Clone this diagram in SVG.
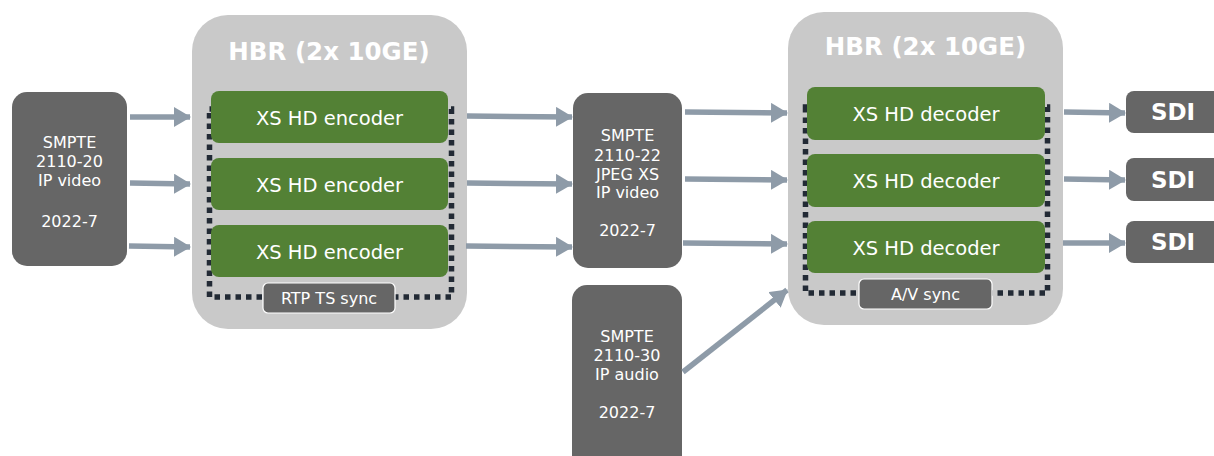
<svg xmlns="http://www.w3.org/2000/svg" width="1214" height="456" viewBox="0 0 1214 456">
<style>
.hbr{fill:#c9c9c9}
.ttl{font-family:"DejaVu Sans",Verdana,sans-serif;font-weight:bold;font-size:24.5px;fill:#ffffff;text-anchor:middle}
.grn{fill:#538135}
.gt{font-family:"DejaVu Sans",Verdana,sans-serif;font-size:19.5px;fill:#ffffff;text-anchor:middle}
.dk{fill:#666666}
.st{font-family:"DejaVu Sans",Verdana,sans-serif;font-size:16px;fill:#ffffff;text-anchor:middle}
.sm{font-family:"DejaVu Sans",Verdana,sans-serif;font-size:16px;fill:#ffffff;text-anchor:middle}
.sdi{font-family:"DejaVu Sans",Verdana,sans-serif;font-weight:bold;font-size:23px;fill:#ffffff;text-anchor:middle}
.dot{fill:none;stroke:#222a35;stroke-width:5.5;stroke-dasharray:5.5 5}
.syn{fill:#666666;stroke:#ffffff;stroke-width:1.2}
.ar{stroke:#8e9ba8;stroke-width:5.5;fill:none;marker-end:url(#ah)}
</style>
<defs>
<marker id="ah" markerUnits="userSpaceOnUse" markerWidth="18" markerHeight="20" refX="16" refY="10" orient="auto">
<path d="M0,0 L17,10 L0,20 Z" fill="#8e9ba8"/>
</marker>
</defs>

<g id="src-2110-20">
<rect class="dk" x="12" y="92" width="115" height="174" rx="15"/>
<text class="st" x="69.5" y="148">SMPTE</text>
<text class="st" x="69.5" y="167">2110-20</text>
<text class="st" x="69.5" y="186">IP video</text>
<text class="st" x="69.5" y="227">2022-7</text>
</g>

<g id="hbr-enc">
<rect class="hbr" x="192" y="15" width="275" height="314" rx="36"/>
<text class="ttl" x="329" y="60">HBR (2x 10GE)</text>
<rect class="dot" x="209.5" y="109" width="242" height="188"/>
<rect class="grn" x="211" y="91" width="237" height="52" rx="8"/>
<text class="gt" x="329.5" y="125">XS HD encoder</text>
<rect class="grn" x="211" y="158" width="237" height="52" rx="8"/>
<text class="gt" x="329.5" y="192">XS HD encoder</text>
<rect class="grn" x="211" y="225" width="237" height="52" rx="8"/>
<text class="gt" x="329.5" y="259">XS HD encoder</text>
<rect class="syn" x="263" y="283" width="132" height="30" rx="5"/>
<text class="sm" x="329" y="304">RTP TS sync</text>
</g>

<g id="mid-2110-22">
<rect class="dk" x="573" y="93" width="109" height="175" rx="15"/>
<text class="st" x="627.5" y="141">SMPTE</text>
<text class="st" x="627.5" y="161">2110-22</text>
<text class="st" x="627.5" y="180">JPEG XS</text>
<text class="st" x="627.5" y="198">IP video</text>
<text class="st" x="627.5" y="236">2022-7</text>
</g>

<g id="src-2110-30">
<rect class="dk" x="572" y="285" width="110" height="185" rx="15"/>
<text class="st" x="627" y="342">SMPTE</text>
<text class="st" x="627" y="361">2110-30</text>
<text class="st" x="627" y="380">IP audio</text>
<text class="st" x="627" y="418">2022-7</text>
</g>

<g id="hbr-dec">
<rect class="hbr" x="788" y="12" width="275" height="313" rx="36"/>
<text class="ttl" x="925.5" y="55">HBR (2x 10GE)</text>
<rect class="dot" x="805.5" y="107" width="242" height="186"/>
<rect class="grn" x="807" y="87" width="238" height="53" rx="8"/>
<text class="gt" x="926" y="121">XS HD decoder</text>
<rect class="grn" x="807" y="154" width="238" height="53" rx="8"/>
<text class="gt" x="926" y="188">XS HD decoder</text>
<rect class="grn" x="807" y="221" width="238" height="52" rx="8"/>
<text class="gt" x="926" y="255">XS HD decoder</text>
<rect class="syn" x="859" y="279" width="133" height="30" rx="5"/>
<text class="sm" x="925.5" y="300">A/V sync</text>
</g>

<g id="sdi-1">
<rect class="dk" x="1126" y="91" width="100" height="42" rx="8"/>
<text class="sdi" x="1173" y="120">SDI</text>
</g>
<g id="sdi-2">
<rect class="dk" x="1126" y="158" width="100" height="43" rx="8"/>
<text class="sdi" x="1173" y="188">SDI</text>
</g>
<g id="sdi-3">
<rect class="dk" x="1126" y="221" width="100" height="42" rx="8"/>
<text class="sdi" x="1173" y="250">SDI</text>
</g>

<g id="connectors">
<line class="ar" x1="130" y1="117" x2="190" y2="117"/>
<line class="ar" x1="130" y1="183" x2="190" y2="184"/>
<line class="ar" x1="129" y1="246" x2="190" y2="247"/>
<line class="ar" x1="467" y1="116" x2="572" y2="117"/>
<line class="ar" x1="467" y1="183" x2="572" y2="184"/>
<line class="ar" x1="466" y1="246" x2="572" y2="247"/>
<line class="ar" x1="685" y1="112" x2="787" y2="113"/>
<line class="ar" x1="685" y1="179" x2="787" y2="180"/>
<line class="ar" x1="683" y1="243" x2="787" y2="244"/>
<line class="ar" x1="683" y1="372" x2="787" y2="290"/>
<line class="ar" x1="1064" y1="112" x2="1125" y2="113"/>
<line class="ar" x1="1064" y1="179" x2="1125" y2="180"/>
<line class="ar" x1="1063" y1="243" x2="1125" y2="243"/>
</g>
</svg>
